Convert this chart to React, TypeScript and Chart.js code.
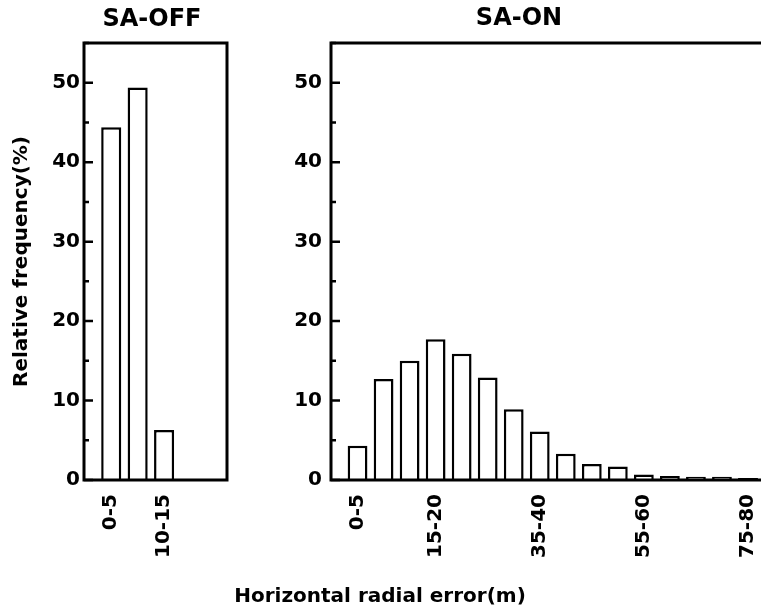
import React, { useEffect, useRef } from 'react';
import { Chart, registerables } from 'chart.js';

Chart.register(...registerables);

// ---- data ----
const offBins = ['0-5', '5-10', '10-15'];
const offValues = [44.4, 49.4, 6.3];
const offTickLabels = ['0-5', '10-15'];

const onBins = [
  '0-5', '5-10', '10-15', '15-20', '20-25', '25-30', '30-35', '35-40',
  '40-45', '45-50', '50-55', '55-60', '60-65', '65-70', '70-75', '75-80',
];
const onValues = [4.3, 12.7, 15.0, 17.7, 15.9, 12.9, 8.9, 6.1, 3.3, 2.0, 1.7, 0.7, 0.5, 0.4, 0.4, 0.25];
const onTickLabels = ['0-5', '15-20', '35-40', '55-60', '75-80'];

const yLabelValues = [0, 10, 20, 30, 40, 50];
const panelTitles = ['SA-OFF', 'SA-ON'];
const yTitle = 'Relative frequency(%)';
const xTitle = 'Horizontal radial error(m)';

const FONT = 'DejaVu Sans';

const framePlugin = {
  id: 'frame',
  afterDatasetsDraw(chart: any, _args: any, opts: any) {
    const { ctx, chartArea } = chart;
    const { left, right, top, bottom } = chartArea;
    const sides: string = opts.sides || 'ltrb';
    ctx.save();
    ctx.strokeStyle = '#000';
    ctx.lineWidth = 3;
    ctx.lineCap = 'square';
    ctx.beginPath();
    if (sides.includes('l')) { ctx.moveTo(left, top); ctx.lineTo(left, bottom); }
    if (sides.includes('t')) { ctx.moveTo(left, top); ctx.lineTo(right, top); }
    if (sides.includes('r')) { ctx.moveTo(right, top); ctx.lineTo(right, bottom); }
    if (sides.includes('b')) { ctx.moveTo(left, bottom); ctx.lineTo(right, bottom); }
    ctx.stroke();
    // inward y tick marks
    const ys = chart.scales.y;
    ctx.lineWidth = 2.5;
    ctx.lineCap = 'butt';
    ctx.beginPath();
    ys.ticks.forEach((t: any) => {
      const py = ys.getPixelForValue(t.value);
      const len = t.value % 10 === 0 ? 9 : 5;
      ctx.moveTo(left, py);
      ctx.lineTo(left + len, py);
    });
    ctx.stroke();
    ctx.restore();
  },
};

function makeConfig(
  bins: string[],
  values: number[],
  tickLabels: string[],
  xMin: number,
  xMax: number,
  yWidth: number,
  yPad: number,
  showYTitle: boolean,
  sides: string,
  padRight: number,
): any {
  return {
    type: 'bar',
    data: {
      datasets: [
        {
          data: bins.map((_, i) => ({ x: i, y: values[i] })),
          backgroundColor: '#fff',
          borderColor: '#000',
          borderWidth: 2.5,
          barPercentage: 0.76,
          categoryPercentage: 1,
        },
      ],
    },
    options: {
      responsive: false,
      animation: false,
      layout: { padding: { top: 43, left: 0, right: padRight, bottom: 0 } },
      plugins: {
        legend: { display: false },
        tooltip: { enabled: false },
        frame: { sides },
      },
      scales: {
        x: {
          type: 'linear',
          min: xMin,
          max: xMax,
          offset: false,
          grid: { display: false, drawTicks: false },
          border: { display: false },
          afterBuildTicks: (s: any) => {
            s.ticks = tickLabels.map((l) => ({ value: bins.indexOf(l) }));
          },
          afterFit: (s: any) => {
            s.height = 132;
            s.paddingLeft = 0;
            s.paddingRight = 0;
          },
          ticks: {
            autoSkip: false,
            maxRotation: 90,
            minRotation: 90,
            padding: 14,
            color: '#000',
            font: { family: FONT, size: 20, weight: 'bold' },
            callback: (v: any) => bins[v] ?? '',
          },
        },
        y: {
          type: 'linear',
          min: 0,
          max: 55,
          grid: { display: false, drawTicks: false },
          border: { display: false },
          afterFit: (s: any) => {
            s.width = yWidth;
            s.paddingTop = 0;
            s.paddingBottom = 0;
          },
          ticks: {
            stepSize: 5,
            autoSkip: false,
            padding: yPad,
            color: '#000',
            font: { family: FONT, size: 20, weight: 'bold' },
            callback: (v: any) => (yLabelValues.includes(v) ? String(v) : ''),
          },
          title: {
            display: showYTitle,
            text: yTitle,
            color: '#000',
            font: { family: FONT, size: 20, weight: 'bold', lineHeight: 1.2 },
            padding: { top: 10, bottom: 0 },
          },
        },
      },
    },
    plugins: [framePlugin],
  };
}

function Panel(props: { cfg: () => any; left: number; width: number }) {
  const ref = useRef<HTMLCanvasElement>(null);
  useEffect(() => {
    const chart = new Chart(ref.current as HTMLCanvasElement, props.cfg());
    return () => chart.destroy();
  }, []);
  return (
    <canvas
      ref={ref}
      width={props.width}
      height={612}
      style={{ position: 'absolute', left: props.left, top: 0, width: props.width, height: 612 }}
    />
  );
}

const textStyle = (x: number, y: number, size: number): React.CSSProperties => ({
  position: 'absolute',
  left: x,
  top: y,
  transform: 'translate(-50%, -50%)',
  fontFamily: FONT,
  fontWeight: 'bold',
  fontSize: size,
  lineHeight: 1,
  whiteSpace: 'nowrap',
  color: '#000',
});

export default function App() {
  return (
    <div
      style={{
        position: 'absolute',
        left: 0,
        top: 0,
        width: 761,
        height: 612,
        overflow: 'hidden',
        background: '#fff',
      }}
    >
      <Panel
        left={0}
        width={240}
        cfg={() => makeConfig(offBins, offValues, offTickLabels, -1.03, 4.38, 84, 4, true, 'ltrb', 13)}
      />
      <Panel
        left={240}
        width={521}
        cfg={() => makeConfig(onBins, onValues, onTickLabels, -1.02, 15.5, 91, 9, false, 'ltb', 0)}
      />
      <div style={textStyle(152, 18, 24)}>{panelTitles[0]}</div>
      <div style={textStyle(519, 17, 24)}>{panelTitles[1]}</div>
      <div style={textStyle(380, 595, 20)}>{xTitle}</div>
    </div>
  );
}
